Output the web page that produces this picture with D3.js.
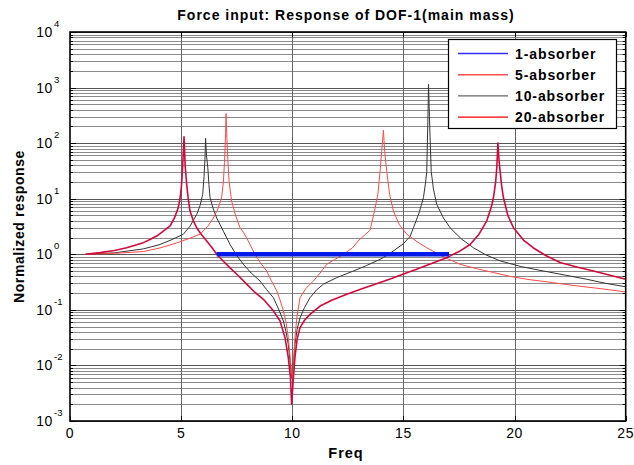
<!DOCTYPE html>
<html>
<head>
<meta charset="utf-8">
<script src="https://cdn.jsdelivr.net/npm/d3@7"></script>
<style>
    body { margin: 0; background: #fff; }
    text { font-family: Arial, 'Liberation Sans', sans-serif; }
</style>
</head>
<body>
<div id="chart"></div>
<script>
// Data
const freq1 = [6.6, 17.05];
const resp1 = [1.0, 1.0];

const freq5 = [0.7, 2.0, 3.3, 4.05, 4.8, 5.4, 5.85, 6.2, 6.45, 6.65, 6.82, 6.9, 6.95, 7.0, 7.02, 7.06, 7.1, 7.16, 7.27, 7.45, 7.65, 7.8, 8.0, 8.32, 8.55, 8.85, 9.05, 9.3, 9.45, 9.6, 9.72, 9.82, 9.92, 10.0, 10.06, 10.12, 10.22, 10.35, 10.6, 10.95, 11.25, 11.55, 11.9, 12.3, 12.7, 13.0, 13.3, 13.5, 13.7, 13.85, 13.95, 14.02, 14.1, 14.16, 14.25, 14.38, 14.55, 14.8, 15.15, 15.6, 16.05, 16.8, 17.55, 18.3, 19.05, 19.8, 20.55, 21.7, 22.8, 23.9, 25.0];
const resp5 = [1.0, 1.04, 1.12, 1.3, 1.6, 1.95, 2.3, 3.2, 4.5, 6.5, 10.4, 20, 45, 150, 340, 120, 50, 20, 9.1, 5, 3.0, 2.5, 1.8, 1.0, 0.72, 0.5, 0.34, 0.22, 0.15, 0.096, 0.06, 0.032, 0.012, 0.006, 0.012, 0.032, 0.08, 0.166, 0.24, 0.33, 0.46, 0.66, 0.8, 1.0, 1.3, 1.8, 2.3, 2.7, 6, 12, 31, 70, 170, 70, 31, 12, 6, 3.5, 2.3, 1.7, 1.31, 0.9, 0.66, 0.55, 0.47, 0.4, 0.355, 0.31, 0.27, 0.24, 0.21];

const freq10 = [0.7, 2.0, 3.3, 4.05, 4.6, 5.1, 5.4, 5.7, 5.85, 5.97, 6.03, 6.07, 6.1, 6.14, 6.2, 6.25, 6.3, 6.45, 6.6, 6.9, 7.2, 7.5, 7.8, 8.15, 8.55, 8.85, 9.15, 9.4, 9.6, 9.72, 9.82, 9.92, 9.98, 10.05, 10.12, 10.22, 10.35, 10.55, 10.8, 11.1, 11.4, 12.0, 12.75, 13.35, 13.95, 14.25, 14.55, 15.0, 15.3, 15.45, 15.7, 15.9, 16.0, 16.05, 16.1, 16.13, 16.17, 16.2, 16.25, 16.35, 16.5, 16.8, 17.1, 17.6, 18.15, 18.7, 19.35, 20.3, 21.3, 22.3, 23.25, 24.1, 25.0];
const resp10 = [1.0, 1.06, 1.25, 1.5, 1.85, 2.3, 3.2, 5.2, 7.5, 12, 25, 50, 122, 60, 36, 18, 10.4, 6.5, 4.5, 2.6, 1.5, 0.95, 0.66, 0.46, 0.33, 0.23, 0.166, 0.1, 0.063, 0.04, 0.024, 0.01, 0.006, 0.01, 0.024, 0.045, 0.072, 0.11, 0.166, 0.23, 0.29, 0.38, 0.5, 0.63, 0.81, 0.95, 1.15, 1.55, 2.1, 3.0, 5.5, 10.4, 20, 31, 250, 1140, 300, 125, 31, 15, 7.9, 4.5, 3.0, 1.9, 1.31, 0.98, 0.76, 0.6, 0.5, 0.42, 0.355, 0.3, 0.26];

const freq20 = [0.7, 1.35, 2.0, 2.55, 3.0, 3.3, 3.6, 3.9, 4.2, 4.5, 4.7, 4.87, 4.95, 5.02, 5.07, 5.13, 5.18, 5.25, 5.32, 5.4, 5.55, 5.7, 5.9, 6.15, 6.4, 6.6, 6.9, 7.2, 7.55, 7.95, 8.3, 8.7, 9.15, 9.45, 9.67, 9.82, 9.92, 9.97, 10.05, 10.12, 10.22, 10.35, 10.55, 10.8, 11.25, 11.8, 12.45, 13.2, 13.95, 14.5, 15.0, 15.5, 16.0, 16.5, 16.95, 17.5, 18.0, 18.4, 18.75, 18.95, 19.05, 19.15, 19.2, 19.25, 19.3, 19.35, 19.42, 19.5, 19.7, 19.95, 20.4, 20.85, 21.4, 22.05, 22.8, 23.55, 24.3, 25.0];
const resp20 = [1.0, 1.07, 1.17, 1.31, 1.48, 1.62, 1.85, 2.13, 2.6, 3.23, 4.5, 6.9, 10, 18, 40, 130, 40, 18, 10, 6, 4.0, 3.0, 2.3, 1.73, 1.3, 1.0, 0.75, 0.57, 0.42, 0.29, 0.21, 0.155, 0.096, 0.063, 0.032, 0.014, 0.006, 0.002, 0.006, 0.014, 0.03, 0.048, 0.065, 0.083, 0.117, 0.15, 0.19, 0.245, 0.31, 0.37, 0.44, 0.52, 0.62, 0.74, 0.87, 1.12, 1.5, 2.3, 4, 7, 10.4, 20, 36, 100, 50, 31, 17, 10.4, 5, 3.0, 1.8, 1.3, 0.95, 0.71, 0.59, 0.5, 0.42, 0.355];

const legendLabels = ['1-absorber', '5-absorber', '10-absorber', '20-absorber'];
const xTicks = [0, 5, 10, 15, 20, 25];
const yExponents = [-3, -2, -1, 0, 1, 2, 3, 4];

// Dimensions
const dimensions = {
    width: 634,
    height: 465,
    left: 70,
    right: 625.7,
    top: 32,
    bottom: 421
};

const svg = d3.select('#chart')
    .append('svg')
    .attr('width', dimensions.width)
    .attr('height', dimensions.height);

// Scales
const xScale = d3.scaleLinear()
    .domain([0, 25])
    .range([dimensions.left, dimensions.right]);

const yScale = d3.scaleLog()
    .domain([1e-3, 1e4])
    .range([dimensions.bottom, dimensions.top]);

// Grid
const grid = svg.append('g');
const minorValues = [];
yExponents.slice(0, -1).forEach(e => {
    for (let m = 2; m <= 9; m++) minorValues.push(m * Math.pow(10, e));
});

grid.selectAll('line.minor')
    .data(minorValues)
    .join('line')
    .attr('x1', dimensions.left)
    .attr('x2', dimensions.right)
    .attr('y1', d => Math.round(yScale(d)) + 0.5)
    .attr('y2', d => Math.round(yScale(d)) + 0.5)
    .attr('stroke', '#8a8a8a')
    .attr('stroke-width', 1);

grid.selectAll('line.major')
    .data(yExponents.map(e => Math.pow(10, e)))
    .join('line')
    .attr('x1', dimensions.left)
    .attr('x2', dimensions.right)
    .attr('y1', d => Math.round(yScale(d)) + 0.5)
    .attr('y2', d => Math.round(yScale(d)) + 0.5)
    .attr('stroke', '#555')
    .attr('stroke-width', 1);

grid.selectAll('line.vert')
    .data(xTicks.slice(1, -1))
    .join('line')
    .attr('x1', d => Math.round(xScale(d)) + 0.5)
    .attr('x2', d => Math.round(xScale(d)) + 0.5)
    .attr('y1', dimensions.top)
    .attr('y2', dimensions.bottom)
    .attr('stroke', '#666')
    .attr('stroke-width', 1);

// Curves
const lineGen = d3.line()
    .x(d => xScale(d[0]))
    .y(d => yScale(d[1]));

const series = [
    { f: freq10, r: resp10, color: '#333', width: 1 },
    { f: freq5, r: resp5, color: '#ff4a4a', width: 1 },
    { f: freq20, r: resp20, color: '#d4083a', width: 1.6 },
    { f: freq1, r: resp1, color: '#0018e8', width: 4.5 }
];

svg.append('g')
    .selectAll('path')
    .data(series)
    .join('path')
    .attr('d', d => lineGen(d.f.map((x, i) => [x, d.r[i]])))
    .attr('fill', 'none')
    .attr('stroke', d => d.color)
    .attr('stroke-width', d => d.width)
    .attr('stroke-linejoin', 'round');

// Axes box and ticks
const axes = svg.append('g');
axes.append('rect')
    .attr('x', dimensions.left)
    .attr('y', dimensions.top)
    .attr('width', dimensions.right - dimensions.left)
    .attr('height', dimensions.bottom - dimensions.top)
    .attr('fill', 'none')
    .attr('stroke', '#000')
    .attr('stroke-width', 1.6);

const yTickData = minorValues.map(v => ({ v, len: 3 }))
    .concat(yExponents.map(e => ({ v: Math.pow(10, e), len: 6 })));

[dimensions.left, dimensions.right].forEach((x0, side) => {
    axes.append('g')
        .selectAll('line')
        .data(yTickData)
        .join('line')
        .attr('x1', x0)
        .attr('x2', d => side === 0 ? x0 + d.len : x0 - d.len)
        .attr('y1', d => Math.round(yScale(d.v)) + 0.5)
        .attr('y2', d => Math.round(yScale(d.v)) + 0.5)
        .attr('stroke', '#000');
});

[dimensions.bottom, dimensions.top].forEach((y0, side) => {
    axes.append('g')
        .selectAll('line')
        .data(xTicks)
        .join('line')
        .attr('x1', d => Math.round(xScale(d)) + 0.5)
        .attr('x2', d => Math.round(xScale(d)) + 0.5)
        .attr('y1', y0)
        .attr('y2', side === 0 ? y0 - 5 : y0 + 5)
        .attr('stroke', '#000');
});

// Tick labels
svg.append('g')
    .selectAll('text')
    .data(xTicks)
    .join('text')
    .attr('x', d => xScale(d))
    .attr('y', 438)
    .attr('text-anchor', 'middle')
    .attr('font-size', 14)
    .attr('letter-spacing', 0.6)
    .text(d => d);

const yLabels = svg.append('g')
    .selectAll('g')
    .data(yExponents)
    .join('g')
    .attr('transform', d => `translate(0, ${yScale(Math.pow(10, d))})`);

yLabels.append('text')
    .attr('x', 53)
    .attr('y', 5)
    .attr('text-anchor', 'end')
    .attr('font-size', 14)
    .attr('letter-spacing', 0.6)
    .text('10');

yLabels.append('text')
    .attr('x', 54)
    .attr('y', -5)
    .attr('font-size', 9.5)
    .text(d => d);

// Title and axis labels
svg.append('text')
    .attr('x', 346)
    .attr('y', 20)
    .attr('text-anchor', 'middle')
    .attr('font-size', 14)
    .attr('font-weight', 'bold')
    .attr('letter-spacing', 1)
    .text('Force input: Response of DOF-1(main mass)');

svg.append('text')
    .attr('x', 346)
    .attr('y', 458)
    .attr('text-anchor', 'middle')
    .attr('font-size', 14.5)
    .attr('font-weight', 'bold')
    .attr('letter-spacing', 1)
    .text('Freq');

svg.append('text')
    .attr('transform', `translate(24, ${(dimensions.top + dimensions.bottom) / 2}) rotate(-90)`)
    .attr('text-anchor', 'middle')
    .attr('font-size', 14)
    .attr('font-weight', 'bold')
    .attr('letter-spacing', 0.6)
    .text('Normalized response');

// Legend
const legendColors = ['#3030ff', '#ff5050', '#666', '#ff0000'];
const legend = svg.append('g');
legend.append('rect')
    .attr('x', 448.5)
    .attr('y', 39.5)
    .attr('width', 168)
    .attr('height', 89)
    .attr('fill', '#fff')
    .attr('stroke', '#000')
    .attr('stroke-width', 1.2);

const rows = legend.selectAll('g')
    .data(legendLabels)
    .join('g')
    .attr('transform', (d, i) => `translate(0, ${53.5 + i * 21.2})`);

rows.each(function(d, i) {
    d3.select(this).append('line')
        .attr('x1', 458)
        .attr('x2', 508)
        .attr('y1', 0)
        .attr('y2', 0)
        .attr('stroke', legendColors[i])
        .attr('stroke-width', 1.4);
});

rows.append('text')
    .attr('x', 515)
    .attr('y', 5)
    .attr('font-size', 14)
    .attr('font-weight', 'bold')
    .attr('letter-spacing', 0.9)
    .text(d => d);
</script>
</body>
</html>
